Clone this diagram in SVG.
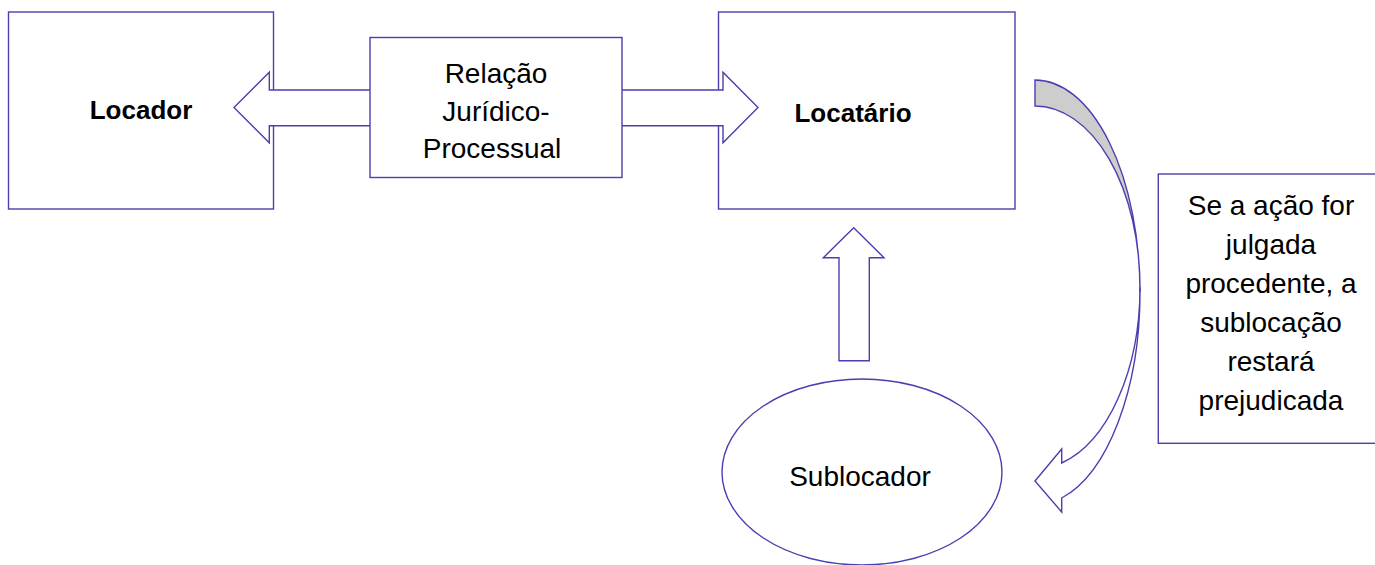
<svg xmlns="http://www.w3.org/2000/svg" width="1375" height="565" viewBox="0 0 1375 565">
  <style>
    .shape { fill: #ffffff; stroke: #4a3fb0; stroke-width: 1.4; stroke-linejoin: miter; }
    .back { fill: #cdcdcd; stroke: #4a3fb0; stroke-width: 1.4; }
    .txt { font-family: "Liberation Sans", Arial, sans-serif; font-size: 28px; fill: #000000; text-anchor: middle; }
    .bold { font-weight: bold; font-size: 26px; }
  </style>
  <rect width="1375" height="565" fill="#ffffff"/>

  <g id="locador">
    <rect class="shape" x="8.5" y="12" width="265" height="197"/>
    <text class="txt bold" x="141" y="118.5">Locador</text>
  </g>

  <g id="locatario">
    <rect class="shape" x="718.5" y="12" width="296.5" height="197"/>
    <text class="txt bold" x="853" y="121.5">Locatário</text>
  </g>

  <g id="connectors">
    <path id="double-arrow" class="shape" d="M234,107.5 L269.3,72.3 L269.3,90 L723,90 L723,72.3 L758,107.5 L723,142.7 L723,125.7 L269.3,125.7 L269.3,142.7 Z"/>
    <path id="up-arrow" class="shape" d="M853.7,227.7 L884,257.7 L869.3,257.7 L869.3,360.7 L839,360.7 L839,257.7 L823.3,257.7 Z"/>
    <g id="curved-arrow">
      <path class="back" d="M1035,80 A105,212.5 0 0 1 1140,292.5 L1140,287.5 A105,181.5 0 0 0 1035,106 Z"/>
      <path class="shape" d="M1140,292.5 A105,212.5 0 0 1 1061.7,498 L1061.7,512 L1035,481 L1061.7,449 L1061.7,463 A105,181.5 0 0 0 1140,287.5 Z"/>
    </g>
  </g>

  <g id="relacao">
    <rect class="shape" x="370" y="37.5" width="252" height="140"/>
    <text class="txt" x="496" y="83">Relação</text>
    <text class="txt" x="496" y="120.5">Jurídico-</text>
    <text class="txt" x="492" y="158">Processual</text>
  </g>

  <g id="sublocador">
    <ellipse class="shape" cx="862" cy="472" rx="140" ry="93"/>
    <text class="txt" x="860" y="486">Sublocador</text>
  </g>

  <g id="nota">
    <rect class="shape" x="1158.3" y="174" width="230" height="269.3"/>
    <text class="txt" x="1271" y="215">Se a ação for</text>
    <text class="txt" x="1271" y="254">julgada</text>
    <text class="txt" x="1271" y="293">procedente, a</text>
    <text class="txt" x="1271" y="332">sublocação</text>
    <text class="txt" x="1271" y="371">restará</text>
    <text class="txt" x="1271" y="410">prejudicada</text>
  </g>
</svg>
